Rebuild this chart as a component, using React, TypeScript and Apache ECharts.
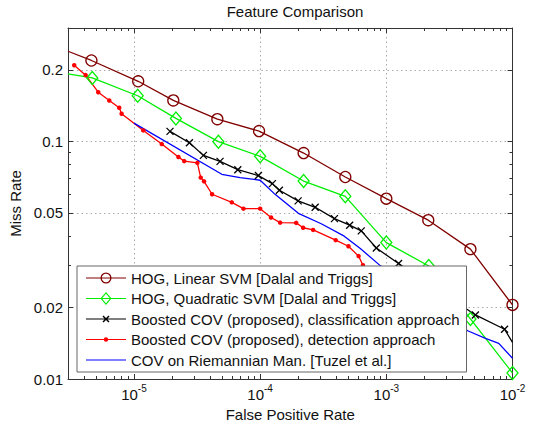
import { useEffect, useRef } from "react";
import * as echarts from "echarts";

const chartTitle = "Feature Comparison";
const xAxisTitle = "False Positive Rate";
const yAxisTitle = "Miss Rate";

const xRange = [3e-6, 1e-2];
const yRange = [0.01, 0.3];

const xMajorTicks = [1e-5, 1e-4, 1e-3, 1e-2];
const xTickExponents = ["-5", "-4", "-3", "-2"];
const xMinorTicks = [
  4e-6, 5e-6, 6e-6, 7e-6, 8e-6, 9e-6,
  2e-5, 3e-5, 4e-5, 5e-5, 6e-5, 7e-5, 8e-5, 9e-5,
  2e-4, 3e-4, 4e-4, 5e-4, 6e-4, 7e-4, 8e-4, 9e-4,
  2e-3, 3e-3, 4e-3, 5e-3, 6e-3, 7e-3, 8e-3, 9e-3,
];
const yMajorTicks = [0.01, 0.02, 0.05, 0.1, 0.2];
const yTickLabels = ["0.01", "0.02", "0.05", "0.1", "0.2"];
const yMinorTicks = [0.03, 0.04, 0.06, 0.07, 0.08, 0.09, 0.3];

const seriesNames = [
  "HOG, Linear SVM [Dalal and Triggs]",
  "HOG, Quadratic SVM [Dalal and Triggs]",
  "Boosted COV (proposed), classification approach",
  "Boosted COV (proposed), detection approach",
  "COV on Riemannian Man. [Tuzel et al.]",
];

const hogLinearFpr = [3e-6, 4.6e-6, 1.08e-5, 2.05e-5, 4.58e-5, 9.8e-5, 2.21e-4, 4.73e-4, 1.0e-3, 2.15e-3, 4.64e-3, 1.0e-2];
const hogLinearMiss = [0.2395, 0.219, 0.179, 0.1487, 0.124, 0.1105, 0.0893, 0.0708, 0.0574, 0.0466, 0.0352, 0.0205];

const hogQuadFpr = [3e-6, 4.67e-6, 1.07e-5, 2.15e-5, 4.67e-5, 1.0e-4, 2.21e-4, 4.73e-4, 1.0e-3, 2.17e-3, 4.64e-3, 1.0e-2];
const hogQuadMiss = [0.1925, 0.185, 0.1556, 0.1249, 0.0997, 0.0865, 0.0681, 0.0587, 0.0375, 0.0299, 0.0179, 0.0106];

const covClassFpr = [1.93e-5, 2.75e-5, 3.55e-5, 4.81e-5, 6.65e-5, 9.69e-5, 1.25e-4, 1.42e-4, 2.0e-4, 2.73e-4, 3.88e-4, 5.12e-4, 6.33e-4, 8.33e-4, 1.25e-3, 2.45e-3, 5.08e-3, 8.65e-3, 1.0e-2];
const covClassMiss = [0.1102, 0.0987, 0.0873, 0.0824, 0.076, 0.0718, 0.0664, 0.0623, 0.0562, 0.0528, 0.0473, 0.0444, 0.042, 0.0356, 0.0306, 0.0242, 0.0186, 0.0162, 0.01426];

const covDetFpr = [3.36e-6, 4.14e-6, 5.21e-6, 6.37e-6, 7.64e-6, 7.98e-6, 1.185e-5, 1.66e-5, 2.25e-5, 2.5e-5, 3.18e-5, 3.38e-5, 3.59e-5, 4.16e-5, 5.96e-5, 7.37e-5, 1.0e-4, 1.22e-4, 1.44e-4, 1.93e-4, 2.19e-4, 2.63e-4, 3.97e-4, 5.01e-4, 6.03e-4, 6.53e-4, 6.93e-4];
const covDetMiss = [0.2092, 0.19, 0.161, 0.1487, 0.1385, 0.1307, 0.1112, 0.0974, 0.0859, 0.0826, 0.0812, 0.0704, 0.0679, 0.0599, 0.0554, 0.0521, 0.0521, 0.0478, 0.0455, 0.0454, 0.0433, 0.0424, 0.0384, 0.0362, 0.0329, 0.0301, 0.0248];

const covRiemFpr = [1e-5, 4.97e-5, 6.93e-5, 1e-4, 1.32e-4, 2.01e-4, 3.05e-4, 4.64e-4, 6.22e-4, 8.95e-4, 2.04e-3, 4.41e-3, 6.11e-3, 7.78e-3, 1e-2];
const covRiemMiss = [0.1193, 0.0727, 0.0704, 0.0686, 0.0597, 0.0498, 0.045, 0.0399, 0.0354, 0.03, 0.0215, 0.01596, 0.01483, 0.01413, 0.01222];

const FONT = "'Liberation Sans', Arial, Helvetica, sans-serif";
const FS = 15;
const L = (v: number) => Math.log10(v);
const TEXT = "#111";
const AXIS = "#333";

const BROWN = "#800000";
const GREEN = "#00ee00";
const BLACK = "#000000";
const RED = "#ff0000";
const BLUE = "#0000ff";

function points(xs: number[], ys: number[], noMarker: number[] = []) {
  return xs.map((x, i) => {
    const item: any = { value: [L(x), L(ys[i])] };
    if (noMarker.includes(i)) item.symbol = "none";
    return item;
  });
}

// legend icons: 40x14 box, a horizontal line with the marker in the middle
const ICON_BOX = "M0,0M40,14";
const ICON_LINE = "M0,6.4H40V7.6H0Z";
const circleIcon =
  `path://${ICON_BOX}${ICON_LINE}M14.5,7A5.5,5.5,0,1,1,25.5,7A5.5,5.5,0,1,1,14.5,7Z` +
  "M15.8,7A4.2,4.2,0,1,0,24.2,7A4.2,4.2,0,1,0,15.8,7Z";
const diamondIcon =
  `path://${ICON_BOX}${ICON_LINE}M20,0.5L25.5,7L20,13.5L14.5,7Z` + "M20,2.3L15.9,7L20,11.7L24.1,7Z";
const crossIcon =
  `path://${ICON_BOX}${ICON_LINE}M17.5,3.5L23.5,9.5L22.5,10.5L16.5,4.5Z` +
  "M23.5,4.5L17.5,10.5L16.5,9.5L22.5,3.5Z";
const dotIcon = `path://${ICON_BOX}${ICON_LINE}M17.8,7A2.2,2.2,0,1,1,22.2,7A2.2,2.2,0,1,1,17.8,7Z`;
const lineIcon = `path://${ICON_BOX}${ICON_LINE}`;

function buildOption(): any {
  const xMin = L(xRange[0]);
  const xMax = L(xRange[1]);
  const yMin = L(yRange[0]);
  const yMax = L(yRange[1]);
  const xMaj = xMajorTicks.map(L);
  const yMaj = yMajorTicks.map(L);
  const xMin2 = xMinorTicks.map(L);
  const yMin2 = yMinorTicks.map(L);
  const grid = { left: 68, right: 22.5, top: 28, bottom: 45, containLabel: false, outerBoundsMode: "none" };
  const lineOn = { show: true, onZero: false, lineStyle: { color: AXIS, width: 1 } };
  const lineOff = { show: false, onZero: false };
  const split = { show: true, lineStyle: { color: "#aaa", width: 1, type: [1.5, 3] } };

  const xAx = (gridIndex: number, position: string, ticks: number[], len: number, extra: any = {}) => ({
    type: "value",
    gridIndex,
    position,
    min: xMin,
    max: xMax,
    axisLine: gridIndex === 0 ? lineOn : lineOff,
    axisTick: { show: true, inside: true, length: len, customValues: ticks, lineStyle: { color: AXIS } },
    axisLabel: { show: false },
    splitLine: { show: false },
    ...extra,
  });
  const yAx = (gridIndex: number, position: string, ticks: number[], len: number, extra: any = {}) => ({
    type: "value",
    gridIndex,
    position,
    min: yMin,
    max: yMax,
    axisLine: gridIndex === 0 ? lineOn : lineOff,
    axisTick: { show: true, inside: true, length: len, customValues: ticks, lineStyle: { color: AXIS } },
    axisLabel: { show: false },
    splitLine: { show: false },
    ...extra,
  });

  const lw = 1.3;
  const common = { type: "line", xAxisIndex: 0, yAxisIndex: 0, silent: true, emphasis: { disabled: true }, z: 3 };
  const legendItem = (name: string, icon: string, color: string) => ({
    name,
    icon,
    itemStyle: { color, borderWidth: 0 },
  });

  return {
    animation: false,
    backgroundColor: "#fff",
    textStyle: { fontFamily: FONT },
    title: {
      text: chartTitle,
      left: 290,
      top: -1,
      textAlign: "center",
      textStyle: { fontSize: FS, fontWeight: "normal", color: TEXT, fontFamily: FONT },
    },
    grid: [grid, grid],
    xAxis: [
      xAx(0, "bottom", xMaj, 5, {
        name: xAxisTitle,
        nameLocation: "middle",
        nameGap: 27,
        nameTextStyle: { fontSize: FS, color: TEXT, fontFamily: FONT },
        axisLabel: {
          show: true,
          customValues: xMaj,
          margin: 4,
          formatter: (v: number) => {
            const i = xMaj.findIndex((t) => Math.abs(t - v) < 1e-6);
            return `{b|10}{s|${xTickExponents[i]}}`;
          },
          rich: {
            b: { fontSize: FS, color: TEXT, fontFamily: FONT },
            s: { fontSize: 10, color: TEXT, fontFamily: FONT, padding: [0, 0, 13, 0] },
          },
        },
        splitLine: split,
      }),
      xAx(0, "top", xMaj, 5),
      xAx(1, "bottom", xMin2, 3),
      xAx(1, "top", xMin2, 3),
    ],
    yAxis: [
      yAx(0, "left", yMaj, 5, {
        name: yAxisTitle,
        nameLocation: "middle",
        nameGap: 39,
        nameTextStyle: { fontSize: FS, color: TEXT, fontFamily: FONT },
        axisLabel: {
          show: true,
          customValues: yMaj,
          margin: 5,
          fontSize: FS,
          color: TEXT,
          fontFamily: FONT,
          formatter: (v: number) => {
            const i = yMaj.findIndex((t) => Math.abs(t - v) < 1e-6);
            return yTickLabels[i];
          },
        },
        splitLine: split,
      }),
      yAx(0, "right", yMaj, 5),
      yAx(1, "left", yMin2, 3),
      yAx(1, "right", yMin2, 3),
    ],
    legend: {
      orient: "vertical",
      left: 77,
      top: 266,
      itemWidth: 40,
      itemHeight: 15,
      itemGap: 5.5,
      padding: [4.5, 7, 4.5, 9],
      backgroundColor: "#fff",
      borderColor: "#666",
      borderWidth: 1,
      selectedMode: false,
      textStyle: { fontSize: FS, color: TEXT, fontFamily: FONT },
      data: [
        legendItem(seriesNames[0], circleIcon, BROWN),
        legendItem(seriesNames[1], diamondIcon, GREEN),
        legendItem(seriesNames[2], crossIcon, BLACK),
        legendItem(seriesNames[3], dotIcon, RED),
        legendItem(seriesNames[4], lineIcon, BLUE),
      ],
    },
    series: [
      {
        ...common,
        name: seriesNames[0],
        data: points(hogLinearFpr, hogLinearMiss, [0]),
        symbol: "circle",
        symbolSize: 11,
        lineStyle: { color: BROWN, width: lw },
        itemStyle: { color: "rgba(255,255,255,0)", borderColor: BROWN, borderWidth: 1.3 },
      },
      {
        ...common,
        name: seriesNames[1],
        data: points(hogQuadFpr, hogQuadMiss, [0]),
        symbol: "diamond",
        symbolSize: [11, 13],
        lineStyle: { color: GREEN, width: lw },
        itemStyle: { color: "rgba(255,255,255,0)", borderColor: GREEN, borderWidth: 1.3 },
      },
      {
        ...common,
        name: seriesNames[2],
        data: points(covClassFpr, covClassMiss, [covClassFpr.length - 1]),
        symbol: "path://M0,0L10,10M10,0L0,10",
        symbolSize: 7,
        lineStyle: { color: BLACK, width: lw },
        itemStyle: { color: BLACK, borderColor: BLACK, borderWidth: 1.3 },
      },
      {
        ...common,
        name: seriesNames[3],
        data: points(covDetFpr, covDetMiss),
        symbol: "circle",
        symbolSize: 4.5,
        lineStyle: { color: RED, width: lw },
        itemStyle: { color: RED, borderWidth: 0 },
      },
      {
        ...common,
        name: seriesNames[4],
        data: points(covRiemFpr, covRiemMiss),
        symbol: "none",
        lineStyle: { color: BLUE, width: lw },
        itemStyle: { color: BLUE },
      },
    ],
  };
}

export default function App() {
  const ref = useRef<HTMLDivElement>(null);
  useEffect(() => {
    if (!ref.current) return;
    const chart = echarts.init(ref.current, null, { renderer: "svg" });
    chart.setOption(buildOption());
    return () => chart.dispose();
  }, []);
  return (
    <div
      ref={ref}
      style={{ position: "fixed", left: 0, top: 0, width: 535, height: 424, background: "#fff" }}
    />
  );
}
